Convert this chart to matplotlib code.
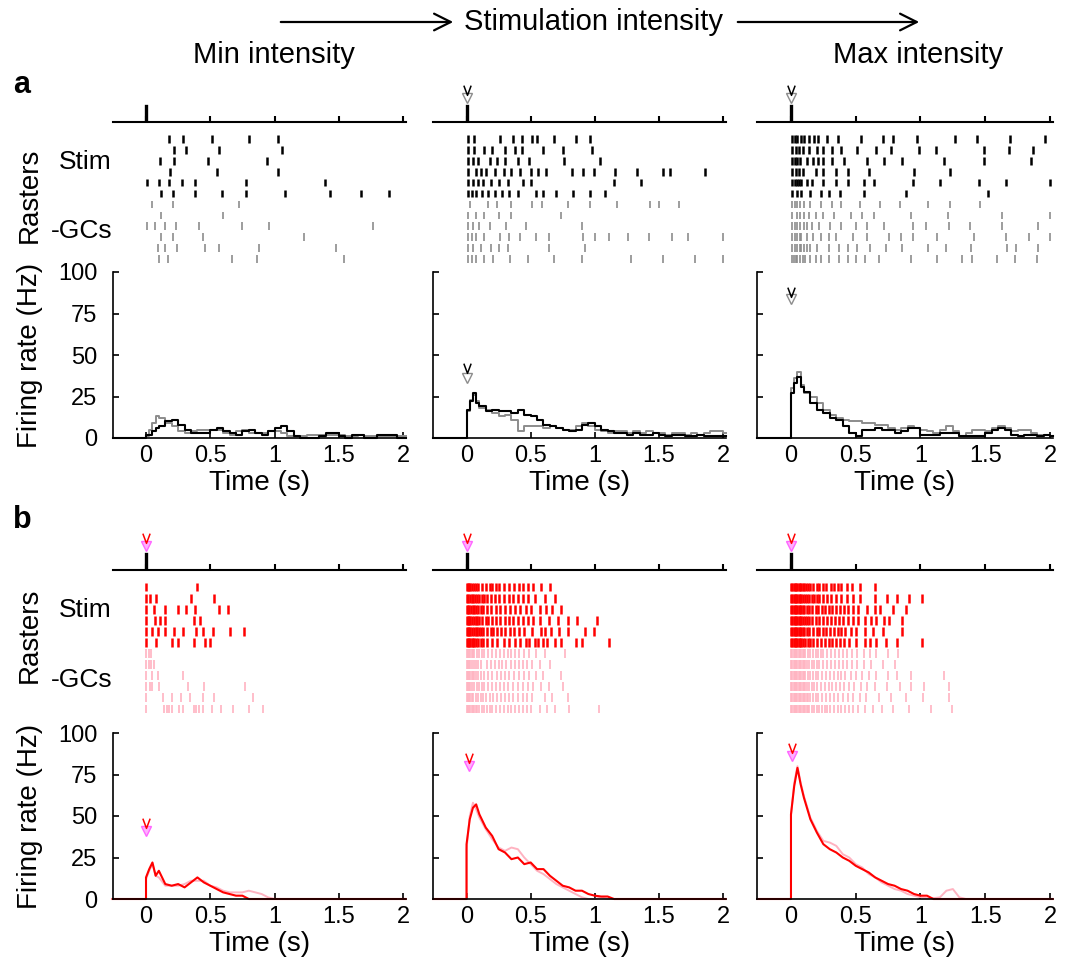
import numpy as np
import matplotlib
matplotlib.use('Agg')
import matplotlib.pyplot as plt
from matplotlib.patches import FancyArrowPatch
from matplotlib.path import Path

plt.rcParams['font.family'] = ['Liberation Sans', 'DejaVu Sans']

W, H = 1065, 968

# axis ticks
x_ticks = [0, 0.5, 1, 1.5, 2]
x_tick_labels = ['0', '0.5', '1', '1.5', '2']
y_ticks = [0, 25, 50, 75, 100]
y_tick_labels = ['0', '25', '50', '75', '100']
stim_time = 0.0
XLIM = (-0.26, 2.02)

# spike times (s), 12 trials per panel: 6 "Stim" rows then 6 "-GCs" rows
raster_a_min = [
    [0.18, 0.29, 0.51, 0.80, 1.03],
    [0.22, 0.31, 0.57, 1.06],
    [0.11, 0.22, 0.48, 0.94],
    [0.19, 0.55, 1.03],
    [0.005, 0.10, 0.18, 0.28, 0.38, 0.78, 1.39],
    [0.12, 0.21, 0.38, 0.59, 0.78, 1.08, 1.43, 1.67, 1.89],
    [0.05, 0.21, 0.72],
    [0.12, 0.60],
    [0.005, 0.07, 0.15, 0.23, 0.41, 0.75, 0.96, 1.77],
    [0.12, 0.21, 0.44, 1.23],
    [0.09, 0.15, 0.24, 0.46, 0.57, 0.88, 1.48],
    [0.10, 0.17, 0.67, 0.86, 1.54],
]
raster_a_mid = [
    [0.01, 0.06, 0.26, 0.36, 0.43, 0.51, 0.55, 0.68, 0.85, 0.96],
    [0.01, 0.06, 0.14, 0.20, 0.30, 0.38, 0.43, 0.60, 0.75, 0.98],
    [0.01, 0.05, 0.09, 0.18, 0.24, 0.30, 0.40, 0.49, 0.76, 1.04],
    [0.01, 0.07, 0.11, 0.15, 0.22, 0.29, 0.35, 0.42, 0.50, 0.56, 0.62, 0.82,
     0.91, 0.99, 1.16, 1.33, 1.53, 1.59, 1.86],
    [0.01, 0.05, 0.09, 0.13, 0.19, 0.25, 0.32, 0.44, 0.50, 1.15, 1.36],
    [0.01, 0.04, 0.07, 0.12, 0.17, 0.22, 0.28, 0.33, 0.40, 0.54, 0.60, 0.70,
     0.83, 0.96, 1.08],
    [0.03, 0.17, 0.24, 0.35, 0.51, 0.59, 0.79, 0.96, 1.17, 1.43, 1.50, 1.66],
    [0.01, 0.07, 0.14, 0.25, 0.35, 0.74],
    [0.01, 0.05, 0.10, 0.18, 0.31, 0.46, 0.90],
    [0.01, 0.04, 0.07, 0.14, 0.26, 0.33, 0.42, 0.54, 0.64, 0.91, 1.00, 1.11,
     1.26, 1.42, 1.60, 1.73, 2.0],
    [0.01, 0.05, 0.11, 0.19, 0.25, 0.32, 0.64, 0.92],
    [0.01, 0.04, 0.07, 0.14, 0.21, 0.34, 0.48, 0.68, 0.90, 1.28, 1.53, 1.78, 2.0],
]
raster_a_max = [
    [0.01, 0.03, 0.05, 0.075, 0.10, 0.14, 0.18, 0.21, 0.28, 0.36, 0.54, 0.71,
     0.79, 0.97, 1.27, 1.44, 1.69, 1.96],
    [0.01, 0.04, 0.06, 0.09, 0.14, 0.20, 0.25, 0.32, 0.39, 0.51, 0.66, 0.77,
     0.99, 1.12, 1.49, 1.68, 1.87],
    [0.01, 0.03, 0.05, 0.07, 0.12, 0.17, 0.21, 0.25, 0.32, 0.41, 0.59, 0.72,
     0.86, 1.18, 1.49, 1.85],
    [0.01, 0.04, 0.06, 0.09, 0.19, 0.25, 0.35, 0.44, 0.60, 0.95, 1.23],
    [0.01, 0.03, 0.05, 0.06, 0.08, 0.12, 0.16, 0.25, 0.35, 0.44, 0.56, 0.64,
     0.94, 1.15, 1.45, 1.66, 2.0],
    [0.01, 0.05, 0.08, 0.15, 0.23, 0.29, 0.38, 0.56, 0.89, 1.52],
    [0.01, 0.03, 0.05, 0.07, 0.10, 0.15, 0.23, 0.32, 0.39, 0.53, 0.69, 0.84,
     1.06, 1.23, 1.46],
    [0.01, 0.05, 0.07, 0.10, 0.14, 0.19, 0.25, 0.33, 0.46, 0.55, 0.64, 0.93,
     1.21, 1.63, 2.0],
    [0.01, 0.03, 0.05, 0.07, 0.10, 0.12, 0.16, 0.22, 0.30, 0.39, 0.50, 0.59,
     0.72, 0.94, 1.04, 1.22, 1.38, 1.63, 1.91],
    [0.01, 0.03, 0.05, 0.07, 0.08, 0.12, 0.17, 0.23, 0.29, 0.35, 0.48, 0.59,
     0.76, 0.85, 0.94, 1.13, 1.41, 1.66, 1.84, 2.0],
    [0.01, 0.03, 0.05, 0.07, 0.08, 0.10, 0.12, 0.15, 0.20, 0.29, 0.37, 0.44,
     0.51, 0.61, 0.73, 0.86, 1.06, 1.20, 1.39, 1.67, 1.74, 1.91],
    [0.01, 0.02, 0.04, 0.05, 0.07, 0.09, 0.11, 0.15, 0.19, 0.23, 0.29, 0.37,
     0.44, 0.50, 0.57, 0.68, 0.93, 1.13, 1.32, 1.40, 1.59, 1.73, 1.90],
]
raster_b_min = [
    [0.0, 0.40],
    [0.0, 0.03, 0.08, 0.35, 0.53],
    [0.0, 0.06, 0.15, 0.25, 0.31, 0.38, 0.57, 0.64],
    [0.0, 0.07, 0.11, 0.15, 0.37, 0.42],
    [0.0, 0.05, 0.09, 0.15, 0.22, 0.29, 0.39, 0.44, 0.52, 0.65, 0.76],
    [0.0, 0.08, 0.20, 0.25, 0.37, 0.46, 0.50],
    [0.0, 0.02, 0.04],
    [0.0, 0.02, 0.04, 0.06],
    [0.0, 0.05, 0.09, 0.29],
    [0.0, 0.03, 0.05, 0.10, 0.33, 0.45, 0.77],
    [0.0, 0.13, 0.20, 0.27, 0.34, 0.44, 0.53, 0.83],
    [0.0, 0.14, 0.16, 0.18, 0.20, 0.26, 0.29, 0.37, 0.39, 0.41, 0.44, 0.51,
     0.58, 0.68, 0.80, 0.91],
]
raster_b_mid = [
    [0.0, 0.01, 0.02, 0.03, 0.045, 0.06, 0.075, 0.09, 0.12, 0.15, 0.18, 0.2,
     0.23, 0.25, 0.29, 0.33, 0.37, 0.41, 0.44, 0.48, 0.52, 0.58, 0.65],
    [0.0, 0.01, 0.025, 0.04, 0.05, 0.065, 0.08, 0.1, 0.12, 0.14, 0.16, 0.19,
     0.22, 0.25, 0.29, 0.33, 0.36, 0.4, 0.44, 0.48, 0.53, 0.61, 0.69],
    [0.0, 0.01, 0.02, 0.035, 0.05, 0.06, 0.075, 0.09, 0.11, 0.13, 0.16, 0.19,
     0.23, 0.26, 0.3, 0.34, 0.38, 0.42, 0.46, 0.5, 0.57, 0.62, 0.67, 0.74],
    [0.0, 0.01, 0.02, 0.03, 0.045, 0.06, 0.07, 0.085, 0.1, 0.12, 0.15, 0.17,
     0.2, 0.23, 0.26, 0.3, 0.33, 0.36, 0.4, 0.44, 0.48, 0.52, 0.57, 0.64,
     0.71, 0.79, 0.86, 1.02],
    [0.0, 0.01, 0.02, 0.03, 0.04, 0.055, 0.07, 0.08, 0.095, 0.11, 0.13, 0.16,
     0.19, 0.21, 0.24, 0.27, 0.3, 0.34, 0.37, 0.41, 0.45, 0.51, 0.58, 0.61,
     0.66, 0.72, 0.79, 0.92, 0.99],
    [0.0, 0.01, 0.02, 0.03, 0.04, 0.05, 0.06, 0.075, 0.09, 0.11, 0.13, 0.16,
     0.2, 0.24, 0.29, 0.33, 0.38, 0.42, 0.46, 0.49, 0.53, 0.56, 0.6, 0.63,
     0.69, 0.74, 0.85, 0.9, 1.11],
    [0.0, 0.01, 0.02, 0.03, 0.04, 0.05, 0.06, 0.08, 0.1, 0.12, 0.14, 0.17,
     0.2, 0.23, 0.26, 0.29, 0.32, 0.35, 0.38, 0.41, 0.45, 0.49, 0.54, 0.61, 0.77],
    [0.0, 0.01, 0.02, 0.03, 0.04, 0.055, 0.07, 0.09, 0.11, 0.16, 0.19, 0.22,
     0.25, 0.28, 0.31, 0.35, 0.38, 0.41, 0.44, 0.47, 0.51, 0.57, 0.65],
    [0.0, 0.01, 0.02, 0.03, 0.04, 0.05, 0.06, 0.075, 0.09, 0.11, 0.14, 0.17,
     0.2, 0.24, 0.27, 0.3, 0.33, 0.37, 0.41, 0.45, 0.49, 0.54, 0.6, 0.74],
    [0.0, 0.01, 0.02, 0.03, 0.045, 0.06, 0.08, 0.1, 0.12, 0.14, 0.17, 0.2,
     0.23, 0.26, 0.29, 0.32, 0.36, 0.4, 0.44, 0.48, 0.52, 0.58, 0.64, 0.75],
    [0.0, 0.01, 0.02, 0.03, 0.04, 0.05, 0.07, 0.09, 0.11, 0.13, 0.15, 0.18,
     0.21, 0.24, 0.27, 0.3, 0.33, 0.36, 0.4, 0.44, 0.47, 0.51, 0.61, 0.67, 0.79],
    [0.0, 0.01, 0.02, 0.03, 0.04, 0.05, 0.06, 0.07, 0.08, 0.1, 0.12, 0.14,
     0.16, 0.18, 0.2, 0.23, 0.26, 0.29, 0.32, 0.35, 0.38, 0.41, 0.44, 0.47,
     0.5, 0.57, 0.63, 0.69, 0.8, 1.03],
]
raster_b_max = [
    [0.0, 0.01, 0.02, 0.03, 0.04, 0.05, 0.06, 0.07, 0.08, 0.09, 0.1, 0.115,
     0.13, 0.15, 0.17, 0.2, 0.22, 0.25, 0.27, 0.31, 0.33, 0.36, 0.39, 0.43,
     0.47, 0.53, 0.65],
    [0.0, 0.01, 0.02, 0.03, 0.04, 0.05, 0.06, 0.07, 0.08, 0.095, 0.11, 0.125,
     0.14, 0.16, 0.18, 0.2, 0.22, 0.25, 0.28, 0.31, 0.35, 0.39, 0.43, 0.48,
     0.53, 0.65, 0.74, 0.82, 0.91, 1.01],
    [0.0, 0.01, 0.02, 0.03, 0.04, 0.05, 0.06, 0.07, 0.08, 0.09, 0.1, 0.12,
     0.14, 0.16, 0.19, 0.21, 0.24, 0.26, 0.29, 0.32, 0.35, 0.38, 0.41, 0.44,
     0.48, 0.52, 0.59, 0.65, 0.69, 0.79, 0.89],
    [0.0, 0.01, 0.02, 0.03, 0.04, 0.05, 0.06, 0.07, 0.08, 0.09, 0.105, 0.12,
     0.14, 0.16, 0.19, 0.22, 0.25, 0.28, 0.31, 0.34, 0.37, 0.4, 0.44, 0.48,
     0.52, 0.57, 0.62, 0.66, 0.72, 0.76, 0.86],
    [0.0, 0.01, 0.02, 0.03, 0.04, 0.05, 0.06, 0.07, 0.08, 0.09, 0.1, 0.12,
     0.14, 0.17, 0.2, 0.22, 0.25, 0.27, 0.3, 0.33, 0.36, 0.39, 0.42, 0.46,
     0.5, 0.57, 0.63, 0.71, 0.86],
    [0.0, 0.01, 0.02, 0.03, 0.04, 0.05, 0.06, 0.07, 0.08, 0.095, 0.11, 0.13,
     0.15, 0.17, 0.2, 0.23, 0.26, 0.29, 0.32, 0.35, 0.38, 0.41, 0.45, 0.5,
     0.57, 0.61, 0.66, 0.73, 0.82, 1.01],
    [0.0, 0.01, 0.02, 0.03, 0.04, 0.05, 0.06, 0.07, 0.08, 0.09, 0.1, 0.11,
     0.13, 0.15, 0.17, 0.19, 0.21, 0.23, 0.25, 0.28, 0.31, 0.34, 0.37, 0.4,
     0.43, 0.47, 0.51, 0.56, 0.61, 0.66, 0.75, 0.83],
    [0.0, 0.01, 0.02, 0.03, 0.04, 0.05, 0.06, 0.07, 0.08, 0.09, 0.1, 0.11,
     0.12, 0.14, 0.16, 0.18, 0.2, 0.22, 0.25, 0.28, 0.31, 0.34, 0.37, 0.4,
     0.43, 0.47, 0.51, 0.56, 0.62, 0.71, 0.8],
    [0.0, 0.01, 0.02, 0.03, 0.04, 0.05, 0.06, 0.07, 0.08, 0.09, 0.1, 0.11,
     0.13, 0.15, 0.17, 0.19, 0.21, 0.24, 0.27, 0.3, 0.33, 0.36, 0.39, 0.42,
     0.46, 0.5, 0.55, 0.6, 0.66, 0.75, 0.82, 0.93, 1.18],
    [0.0, 0.01, 0.02, 0.03, 0.04, 0.05, 0.06, 0.07, 0.08, 0.09, 0.1, 0.11,
     0.12, 0.14, 0.16, 0.18, 0.2, 0.23, 0.26, 0.29, 0.32, 0.35, 0.38, 0.41,
     0.45, 0.49, 0.54, 0.59, 0.65, 0.74, 0.84, 0.93, 1.03, 1.22],
    [0.0, 0.01, 0.02, 0.03, 0.04, 0.05, 0.06, 0.07, 0.08, 0.09, 0.1, 0.11,
     0.12, 0.13, 0.15, 0.17, 0.19, 0.21, 0.24, 0.27, 0.3, 0.33, 0.36, 0.4,
     0.44, 0.48, 0.53, 0.58, 0.68, 0.77, 0.89, 1.02, 1.22],
    [0.0, 0.01, 0.02, 0.03, 0.04, 0.05, 0.06, 0.07, 0.08, 0.09, 0.1, 0.11,
     0.12, 0.13, 0.14, 0.16, 0.18, 0.2, 0.22, 0.24, 0.26, 0.28, 0.3, 0.33,
     0.36, 0.39, 0.42, 0.45, 0.48, 0.52, 0.57, 0.63, 0.70, 0.79, 0.91, 1.08, 1.24],
]

# firing-rate sample times (s) and rates (Hz)
rate_t = np.r_[0, 0.025, 0.05, 0.075, np.arange(0.1, 2.001, 0.05)]

rate_a_min_black = [2, 2, 4, 6, 7, 10, 11, 8, 5, 3, 3, 3, 5,
                    6, 4, 3, 2, 4, 5, 3, 2, 4, 6, 7, 4, 1, 0, 0, 0, 1, 3, 3, 1,
                    0, 2, 2, 0, 0, 2, 2, 2, 0, 0]
rate_a_min_gray = [1, 5, 9, 13, 12, 9, 7, 4, 3, 4, 5, 5, 5,
                   5, 3, 2, 4, 5, 3, 3, 3, 4, 4, 3, 1, 1, 1, 2, 2, 2, 2, 2, 2,
                   1, 1, 2, 1, 1, 1, 1, 1, 1, 1]
rate_a_mid_black = [17, 22, 27, 21, 19, 16, 17, 16, 16, 15, 17, 14, 13,
                    11, 8, 7, 6, 5, 4, 5, 8, 9, 7, 5, 4, 3, 3, 2, 3, 2, 2, 3, 2,
                    1, 2, 2, 1, 1, 2, 1, 1, 1, 1]
rate_a_mid_gray = [16, 23, 26, 22, 18, 17, 15, 13, 14, 11, 4, 7, 7,
                   7, 6, 7, 6, 5, 5, 7, 9, 7, 5, 4, 3, 4, 4, 3, 4, 3, 4, 3, 3,
                   2, 3, 3, 2, 3, 2, 3, 4, 4, 3]
rate_a_max_black = [27, 33, 37, 31, 28, 21, 17, 15, 12, 11, 7, 3, 1,
                    5, 5, 6, 5, 5, 3, 4, 6, 6, 2, 2, 2, 3, 3, 3, 1, 1, 1, 1, 3,
                    5, 6, 5, 2, 1, 2, 2, 1, 2, 1]
rate_a_max_gray = [30, 36, 40, 32, 27, 25, 21, 17, 14, 12, 11, 10, 10,
                   9, 9, 8, 8, 6, 5, 6, 7, 6, 5, 4, 3, 5, 7, 4, 1, 3, 5, 5, 4,
                   6, 7, 6, 4, 5, 5, 3, 2, 2, 1]

rate_b_min_red = [13, 18, 22, 14, 17, 9, 8, 9, 7, 10, 13, 10, 8,
                  6, 4, 3, 2, 2, 0, 0, 0, 0, 0, 0, 0, 0, 0, 0, 0, 0, 0, 0, 0,
                  0, 0, 0, 0, 0, 0, 0, 0, 0, 0]
rate_b_min_pink = [12, 17, 21, 14, 13, 8, 8, 8, 9, 11, 11, 11, 8,
                   7, 5, 4, 4, 4, 5, 4, 3, 1, 0, 0, 0, 0, 0, 0, 0, 0, 0, 0, 0,
                   0, 0, 0, 0, 0, 0, 0, 0, 0, 0]
rate_b_mid_red = [33, 48, 55, 57, 51, 43, 38, 30, 28, 24, 25, 21, 22,
                  18, 18, 14, 11, 8, 7, 5, 5, 3, 2, 1.5, 1.5, 0, 0, 0, 0, 0, 0, 0, 0,
                  0, 0, 0, 0, 0, 0, 0, 0, 0, 0]
rate_b_mid_pink = [30, 50, 58, 54, 49, 42, 36, 31, 29, 31, 30, 25, 21,
                   17, 15, 12, 9, 7, 5, 3, 1, 0, 0, 1, 0, 0, 0, 0, 0, 0, 0, 0, 0,
                   0, 0, 0, 0, 0, 0, 0, 0, 0, 0]
rate_b_max_red = [51, 68, 79, 69, 61, 48, 40, 33, 30, 28, 25, 23, 20,
                  18, 16, 13, 11, 9, 8, 6, 5, 3, 2, 2, 0, 0, 0, 0, 0, 0, 0, 0, 0,
                  0, 0, 0, 0, 0, 0, 0, 0, 0, 0]
rate_b_max_pink = [50, 70, 80, 70, 62, 49, 41, 35, 34, 32, 27, 25, 21,
                   19, 15, 13, 10, 8, 6, 5, 3, 2, 1, 0.5, 0.5, 1, 5, 6, 1, 0, 0, 0, 0,
                   0, 0, 0, 0, 0, 0, 0, 0, 0, 0]

# stimulus-marker ("v") positions: (time, rate of dark v, rate of light v)
stim_v_a = [None, 0.0, 0.0]
stim_v_b = [0.0, 0.0, 0.0]
rate_v_a = [None, (0.0, 42, 36), (0.0, 88, 84)]
rate_v_b = [(0.0, 46, 41), (0.02, 85, 80), (0.01, 91, 86)]

# ---------------------------------------------------------------------------
fig = plt.figure(figsize=(W / 100, H / 100), dpi=100)

V_SHAPE = Path([(-0.6, 0.8), (0, -0.8), (0.6, 0.8)],
               [Path.MOVETO, Path.LINETO, Path.LINETO])


def px_axes(left, width, top, bottom):
    return fig.add_axes([left / W, 1 - bottom / H, width / W, (bottom - top) / H])


def v_pair(ax, t, y_dark, y_light, c_dark, c_light, c_fill, transform=None):
    kw = {} if transform is None else {'transform': transform}
    ax.plot([t], [y_light], marker='v', ms=6.5, mec=c_light, mfc=c_fill,
            mew=1.0, ls='none', clip_on=False, **kw)
    ax.plot([t], [y_dark], marker=V_SHAPE, ms=7, mec=c_dark, mfc='none',
            mew=1.1, ls='none', clip_on=False, **kw)


col_px = [(112.6, 293.0), (433.2, 292.4), (757.3, 295.3)]
rows = {
    'a': dict(stim=(82, 122), raster=(133.5, 264.5), rate=(272, 438),
              rasters=[raster_a_min, raster_a_mid, raster_a_max],
              rates=[(rate_a_min_black, rate_a_min_gray),
                     (rate_a_mid_black, rate_a_mid_gray),
                     (rate_a_max_black, rate_a_max_gray)],
              colors=('black', '#8c8c8c'),
              vcolors=('black', '#8c8c8c', 'white'),
              stim_v=stim_v_a, rate_v=rate_v_a, steps=True, tick_len=0.7),
    'b': dict(stim=(530, 570), raster=(581.5, 714.5), rate=(733, 899),
              rasters=[raster_b_min, raster_b_mid, raster_b_max],
              rates=[(rate_b_min_red, rate_b_min_pink),
                     (rate_b_mid_red, rate_b_mid_pink),
                     (rate_b_max_red, rate_b_max_pink)],
              colors=('#ff0000', '#ffb3c1'),
              vcolors=('#ff0000', '#ff66ff', '#ffb0ff'),
              stim_v=stim_v_b, rate_v=rate_v_b, steps=False, tick_len=0.8),
}

for key, cfg in rows.items():
    c_dark, c_light = cfg['colors']
    v_dark, v_light, v_fill = cfg['vcolors']
    for ci, (left, width) in enumerate(col_px):
        # stimulus time line
        ax_s = px_axes(left, width, *cfg['stim'])
        ax_s.set_xlim(XLIM)
        ax_s.set_ylim(0, 1)
        for sp in ['top', 'left', 'right']:
            ax_s.spines[sp].set_visible(False)
        ax_s.spines['bottom'].set_linewidth(1.5)
        ax_s.set_xticks(x_ticks)
        ax_s.set_yticks([])
        ax_s.tick_params(axis='x', direction='in', length=4, width=1.5,
                         labelbottom=False)
        ax_s.patch.set_alpha(0)
        ax_s.axvline(stim_time, 0, 0.4, color='black', lw=2.4)
        vt = cfg['stim_v'][ci]
        if vt is not None:
            v_pair(ax_s, vt, 0.8, 0.6, v_dark, v_light, v_fill,
                   transform=ax_s.get_xaxis_transform())

        # rasters
        ax_r = px_axes(left, width, *cfg['raster'])
        trials = cfg['rasters'][ci]
        n = len(trials)
        ax_r.eventplot(trials, lineoffsets=np.arange(n), linelengths=cfg['tick_len'],
                       colors=[c_dark] * 6 + [c_light] * 6,
                       linewidths=[1.8] * 6 + [1.2] * 6)
        ax_r.set_xlim(XLIM)
        ax_r.set_ylim(n - 0.5, -0.5)
        ax_r.axis('off')

        # firing rate
        ax_f = px_axes(left, width, *cfg['rate'])
        dark, light = cfg['rates'][ci]
        tt = np.r_[XLIM[0], 0, rate_t, XLIM[1]]
        for vals, col, lw in [(light, c_light, 1.4), (dark, c_dark, 1.5)]:
            yy = np.r_[0, 0, vals, vals[-1]]
            ax_f.plot(tt, yy, color=col, lw=lw, clip_on=False,
                      drawstyle='steps-post' if cfg['steps'] else 'default')
        rv = cfg['rate_v'][ci]
        if rv is not None:
            v_pair(ax_f, rv[0], rv[1], rv[2], v_dark, v_light, v_fill)
        ax_f.set_xlim(XLIM)
        ax_f.set_ylim(0, 100)
        for sp in ['top', 'right']:
            ax_f.spines[sp].set_visible(False)
        for sp in ['left', 'bottom']:
            ax_f.spines[sp].set_linewidth(1.2)
        ax_f.set_xticks(x_ticks)
        ax_f.set_xticklabels(x_tick_labels, fontsize=17)
        ax_f.set_yticks(y_ticks)
        ax_f.set_yticklabels(y_tick_labels, fontsize=17)
        ax_f.tick_params(axis='x', direction='in', length=4, width=1.2, pad=5)
        ax_f.tick_params(axis='y', direction='in', length=4, width=1.2, pad=11,
                         labelleft=(ci == 0))
        ax_f.set_xlabel('Time (s)', fontsize=20, labelpad=2)


def ftext(x, y, s, **kw):
    fig.text(x / W, 1 - y / H, s, ha='center', va='center', **kw)


ftext(22, 85, 'a', fontsize=22, fontweight='bold')
ftext(22, 520, 'b', fontsize=22, fontweight='bold')
ftext(274, 55, 'Min intensity', fontsize=21)
ftext(918, 55, 'Max intensity', fontsize=21)
ftext(594, 22, 'Stimulation intensity', fontsize=21)
for x0, x1 in [(278, 456), (735, 922)]:
    arr = FancyArrowPatch((x0 / W, 1 - 22 / H), (x1 / W, 1 - 22 / H),
                          transform=fig.transFigure, color='black', lw=1.6,
                          arrowstyle='->,head_length=0.8,head_width=0.4',
                          mutation_scale=15)
    fig.add_artist(arr)

for yc, ys, yg, yf in [(195, 162, 231, 355), (635, 610, 680, 816)]:
    ftext(30, yc, 'Rasters', fontsize=20, rotation=90)
    ftext(85, ys, 'Stim', fontsize=19)
    ftext(82, yg, '-GCs', fontsize=19)
    ftext(30, yf, 'Firing rate (Hz)', fontsize=20, rotation=90)

fig.savefig('out.png', dpi=100)
